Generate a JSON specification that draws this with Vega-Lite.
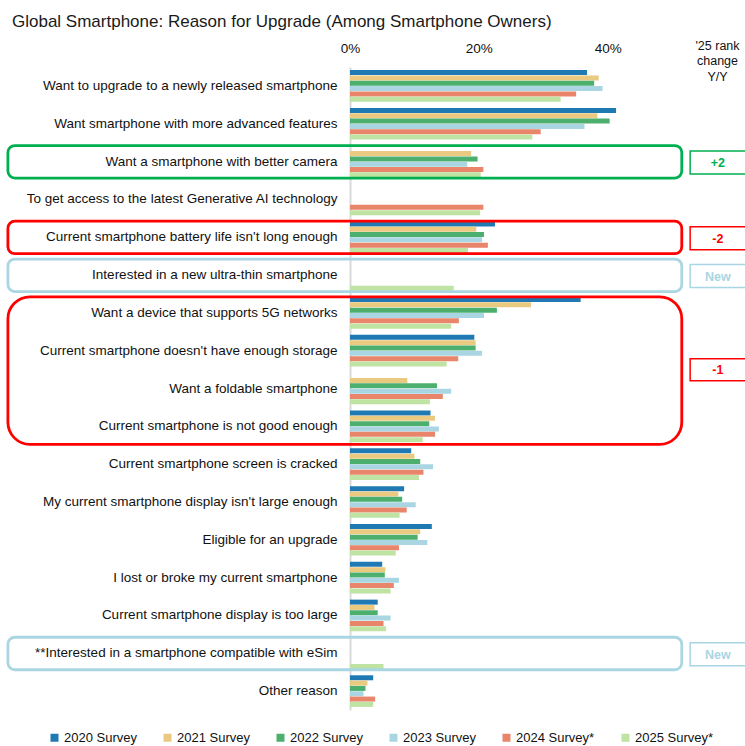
{
  "$schema": "https://vega.github.io/schema/vega-lite/v6.json",
  "width": 335,
  "height": 643,
  "autosize": {"type": "none"},
  "padding": {"left": 350, "top": 67, "right": 60, "bottom": 36},
  "background": "white",
  "config": {"font": "Liberation Sans", "view": {"stroke": null}},
  "title": {"text": "Global Smartphone: Reason for Upgrade (Among Smartphone Owners)", "anchor": "start", "frame": "group", "dx": -338, "fontSize": 17, "fontWeight": "normal", "color": "#1a1a1a", "offset": 8},
  "datasets": {
    "bars": [
      {"r": "Want to upgrade to a newly released smartphone", "s": "2020 Survey", "v": 36.8},
      {"r": "Want to upgrade to a newly released smartphone", "s": "2021 Survey", "v": 38.6},
      {"r": "Want to upgrade to a newly released smartphone", "s": "2022 Survey", "v": 37.9},
      {"r": "Want to upgrade to a newly released smartphone", "s": "2023 Survey", "v": 39.2},
      {"r": "Want to upgrade to a newly released smartphone", "s": "2024 Survey*", "v": 35.1},
      {"r": "Want to upgrade to a newly released smartphone", "s": "2025 Survey*", "v": 32.7},
      {"r": "Want smartphone with more advanced features", "s": "2020 Survey", "v": 41.3},
      {"r": "Want smartphone with more advanced features", "s": "2021 Survey", "v": 38.4},
      {"r": "Want smartphone with more advanced features", "s": "2022 Survey", "v": 40.3},
      {"r": "Want smartphone with more advanced features", "s": "2023 Survey", "v": 36.4},
      {"r": "Want smartphone with more advanced features", "s": "2024 Survey*", "v": 29.6},
      {"r": "Want smartphone with more advanced features", "s": "2025 Survey*", "v": 28.3},
      {"r": "Want a smartphone with better camera", "s": "2021 Survey", "v": 18.8},
      {"r": "Want a smartphone with better camera", "s": "2022 Survey", "v": 19.8},
      {"r": "Want a smartphone with better camera", "s": "2023 Survey", "v": 18.2},
      {"r": "Want a smartphone with better camera", "s": "2024 Survey*", "v": 20.7},
      {"r": "Want a smartphone with better camera", "s": "2025 Survey*", "v": 20.3},
      {"r": "To get access to the latest Generative AI technology", "s": "2024 Survey*", "v": 20.7},
      {"r": "To get access to the latest Generative AI technology", "s": "2025 Survey*", "v": 20.2},
      {"r": "Current smartphone battery life isn't long enough", "s": "2020 Survey", "v": 22.5},
      {"r": "Current smartphone battery life isn't long enough", "s": "2021 Survey", "v": 19.6},
      {"r": "Current smartphone battery life isn't long enough", "s": "2022 Survey", "v": 20.8},
      {"r": "Current smartphone battery life isn't long enough", "s": "2023 Survey", "v": 20.5},
      {"r": "Current smartphone battery life isn't long enough", "s": "2024 Survey*", "v": 21.4},
      {"r": "Current smartphone battery life isn't long enough", "s": "2025 Survey*", "v": 18.3},
      {"r": "Interested in a new ultra-thin smartphone", "s": "2025 Survey*", "v": 16.1},
      {"r": "Want a device that supports 5G networks", "s": "2020 Survey", "v": 35.8},
      {"r": "Want a device that supports 5G networks", "s": "2021 Survey", "v": 28.1},
      {"r": "Want a device that supports 5G networks", "s": "2022 Survey", "v": 22.8},
      {"r": "Want a device that supports 5G networks", "s": "2023 Survey", "v": 20.8},
      {"r": "Want a device that supports 5G networks", "s": "2024 Survey*", "v": 16.9},
      {"r": "Want a device that supports 5G networks", "s": "2025 Survey*", "v": 15.7},
      {"r": "Current smartphone doesn't have enough storage", "s": "2020 Survey", "v": 19.3},
      {"r": "Current smartphone doesn't have enough storage", "s": "2021 Survey", "v": 19.5},
      {"r": "Current smartphone doesn't have enough storage", "s": "2022 Survey", "v": 19.5},
      {"r": "Current smartphone doesn't have enough storage", "s": "2023 Survey", "v": 20.5},
      {"r": "Current smartphone doesn't have enough storage", "s": "2024 Survey*", "v": 16.8},
      {"r": "Current smartphone doesn't have enough storage", "s": "2025 Survey*", "v": 15.0},
      {"r": "Want a foldable smartphone", "s": "2021 Survey", "v": 8.9},
      {"r": "Want a foldable smartphone", "s": "2022 Survey", "v": 13.5},
      {"r": "Want a foldable smartphone", "s": "2023 Survey", "v": 15.7},
      {"r": "Want a foldable smartphone", "s": "2024 Survey*", "v": 14.4},
      {"r": "Want a foldable smartphone", "s": "2025 Survey*", "v": 12.4},
      {"r": "Current smartphone is not good enough", "s": "2020 Survey", "v": 12.5},
      {"r": "Current smartphone is not good enough", "s": "2021 Survey", "v": 13.2},
      {"r": "Current smartphone is not good enough", "s": "2022 Survey", "v": 12.3},
      {"r": "Current smartphone is not good enough", "s": "2023 Survey", "v": 13.8},
      {"r": "Current smartphone is not good enough", "s": "2024 Survey*", "v": 13.2},
      {"r": "Current smartphone is not good enough", "s": "2025 Survey*", "v": 11.3},
      {"r": "Current smartphone screen is cracked", "s": "2020 Survey", "v": 9.5},
      {"r": "Current smartphone screen is cracked", "s": "2021 Survey", "v": 10.0},
      {"r": "Current smartphone screen is cracked", "s": "2022 Survey", "v": 10.9},
      {"r": "Current smartphone screen is cracked", "s": "2023 Survey", "v": 12.9},
      {"r": "Current smartphone screen is cracked", "s": "2024 Survey*", "v": 11.4},
      {"r": "Current smartphone screen is cracked", "s": "2025 Survey*", "v": 10.7},
      {"r": "My current smartphone display isn't large enough", "s": "2020 Survey", "v": 8.4},
      {"r": "My current smartphone display isn't large enough", "s": "2021 Survey", "v": 7.5},
      {"r": "My current smartphone display isn't large enough", "s": "2022 Survey", "v": 8.1},
      {"r": "My current smartphone display isn't large enough", "s": "2023 Survey", "v": 10.2},
      {"r": "My current smartphone display isn't large enough", "s": "2024 Survey*", "v": 8.8},
      {"r": "My current smartphone display isn't large enough", "s": "2025 Survey*", "v": 7.7},
      {"r": "Eligible for an upgrade", "s": "2020 Survey", "v": 12.7},
      {"r": "Eligible for an upgrade", "s": "2021 Survey", "v": 10.9},
      {"r": "Eligible for an upgrade", "s": "2022 Survey", "v": 10.5},
      {"r": "Eligible for an upgrade", "s": "2023 Survey", "v": 12.0},
      {"r": "Eligible for an upgrade", "s": "2024 Survey*", "v": 7.6},
      {"r": "Eligible for an upgrade", "s": "2025 Survey*", "v": 7.1},
      {"r": "I lost or broke my current smartphone", "s": "2020 Survey", "v": 5.0},
      {"r": "I lost or broke my current smartphone", "s": "2021 Survey", "v": 5.5},
      {"r": "I lost or broke my current smartphone", "s": "2022 Survey", "v": 5.4},
      {"r": "I lost or broke my current smartphone", "s": "2023 Survey", "v": 7.6},
      {"r": "I lost or broke my current smartphone", "s": "2024 Survey*", "v": 6.8},
      {"r": "I lost or broke my current smartphone", "s": "2025 Survey*", "v": 6.3},
      {"r": "Current smartphone display is too large", "s": "2020 Survey", "v": 4.3},
      {"r": "Current smartphone display is too large", "s": "2021 Survey", "v": 3.8},
      {"r": "Current smartphone display is too large", "s": "2022 Survey", "v": 4.3},
      {"r": "Current smartphone display is too large", "s": "2023 Survey", "v": 6.3},
      {"r": "Current smartphone display is too large", "s": "2024 Survey*", "v": 5.2},
      {"r": "Current smartphone display is too large", "s": "2025 Survey*", "v": 5.6},
      {"r": "**Interested in a smartphone compatible with eSim", "s": "2025 Survey*", "v": 5.2},
      {"r": "Other reason", "s": "2020 Survey", "v": 3.6},
      {"r": "Other reason", "s": "2021 Survey", "v": 2.7},
      {"r": "Other reason", "s": "2022 Survey", "v": 2.4},
      {"r": "Other reason", "s": "2023 Survey", "v": 2.1},
      {"r": "Other reason", "s": "2024 Survey*", "v": 3.9},
      {"r": "Other reason", "s": "2025 Survey*", "v": 3.6}
    ],
    "groups": [
      {"first": "Want a smartphone with better camera", "last": "Want a smartphone with better camera", "change": "+2", "kind": "up", "span": "one"},
      {"first": "Current smartphone battery life isn't long enough", "last": "Current smartphone battery life isn't long enough", "change": "-2", "kind": "down", "span": "one"},
      {"first": "Interested in a new ultra-thin smartphone", "last": "Interested in a new ultra-thin smartphone", "change": "New", "kind": "new", "span": "one"},
      {"first": "Want a device that supports 5G networks", "last": "Current smartphone is not good enough", "change": "-1", "kind": "down", "span": "four"},
      {"first": "**Interested in a smartphone compatible with eSim", "last": "**Interested in a smartphone compatible with eSim", "change": "New", "kind": "new", "span": "one"}
    ]
  },
  "layer": [
    {
      "data": {"name": "bars"},
      "mark": {"type": "bar"},
      "encoding": {
        "y": {"field": "r", "type": "nominal", "sort": null,
          "scale": {"domain": ["Want to upgrade to a newly released smartphone", "Want smartphone with more advanced features", "Want a smartphone with better camera", "To get access to the latest Generative AI technology", "Current smartphone battery life isn't long enough", "Interested in a new ultra-thin smartphone", "Want a device that supports 5G networks", "Current smartphone doesn't have enough storage", "Want a foldable smartphone", "Current smartphone is not good enough", "Current smartphone screen is cracked", "My current smartphone display isn't large enough", "Eligible for an upgrade", "I lost or broke my current smartphone", "Current smartphone display is too large", "**Interested in a smartphone compatible with eSim", "Other reason"], "paddingInner": 0.164, "paddingOuter": 0.082},
          "axis": {"title": null, "ticks": false, "domainColor": "#d9d9d9", "domainWidth": 2, "labelFontSize": 13.5, "labelColor": "#111111", "labelPadding": 13, "labelLimit": 400}},
        "yOffset": {"field": "s", "type": "nominal", "scale": {"domain": ["2020 Survey", "2021 Survey", "2022 Survey", "2023 Survey", "2024 Survey*", "2025 Survey*"], "paddingInner": 0.06}},
        "x": {"field": "v", "type": "quantitative", "scale": {"domain": [0, 52], "nice": false, "zero": false},
          "axis": {"orient": "top", "values": [0, 20, 40], "labelExpr": "datum.value + '%'", "labelFlush": false, "domain": false, "ticks": false, "grid": false, "labelFontSize": 13.5, "labelColor": "#111111", "labelPadding": 12,
            "title": ["'25 rank", "change", "Y/Y"], "titleFontSize": 12.5, "titleFontWeight": "normal", "titleColor": "#111111", "titleLineHeight": 15.5, "titleX": 367, "titleY": -28, "titleBaseline": "top", "titleAlign": "center", "titleAnchor": null}},
        "color": {"field": "s", "type": "nominal",
          "scale": {"domain": ["2020 Survey", "2021 Survey", "2022 Survey", "2023 Survey", "2024 Survey*", "2025 Survey*"], "range": ["#1f7ab3", "#e9ca80", "#4caf6e", "#a9d6e2", "#e8856a", "#bfe3a3"]},
          "legend": {"orient": "none", "legendX": -302, "legendY": 664, "direction": "horizontal", "title": null, "symbolType": "square", "symbolSize": 64, "symbolStrokeWidth": 0, "labelOffset": 3, "labelFontSize": 13, "labelColor": "#111111", "columnPadding": 24}}
      }
    },
    {
      "data": {"name": "groups"},
      "transform": [{"filter": "datum.span == 'one'"}],
      "mark": {"type": "rect", "fill": "transparent", "strokeWidth": 2.8, "cornerRadius": 7, "yOffset": -16, "y2Offset": 16.5},
      "encoding": {
        "y": {"field": "first", "type": "nominal"},
        "y2": {"field": "last"},
        "x": {"datum": -53.1, "type": "quantitative"},
        "x2": {"datum": 51.5},
        "stroke": {"field": "kind", "type": "nominal", "scale": {"domain": ["up", "down", "new"], "range": ["#00b050", "#ff0000", "#a9d6e2"]}, "legend": null}
      }
    },
    {
      "data": {"name": "groups"},
      "transform": [{"filter": "datum.span == 'four'"}],
      "mark": {"type": "rect", "fill": "transparent", "strokeWidth": 2.8, "cornerRadius": 22, "yOffset": -16, "y2Offset": 18},
      "encoding": {
        "y": {"field": "first", "type": "nominal"},
        "y2": {"field": "last"},
        "x": {"datum": -53.1, "type": "quantitative"},
        "x2": {"datum": 51.5},
        "stroke": {"field": "kind", "type": "nominal", "legend": null}
      }
    },
    {
      "data": {"name": "groups"},
      "transform": [{"filter": "datum.span == 'one'"}],
      "mark": {"type": "rect", "fill": "transparent", "strokeWidth": 1.5, "yOffset": -10.5, "y2Offset": 12.5},
      "encoding": {
        "y": {"field": "first", "type": "nominal"},
        "y2": {"field": "last"},
        "x": {"datum": 52.8, "type": "quantitative"},
        "x2": {"datum": 62.5},
        "stroke": {"field": "kind", "type": "nominal", "legend": null}
      }
    },
    {
      "data": {"name": "groups"},
      "transform": [{"filter": "datum.span == 'four'"}],
      "mark": {"type": "rect", "fill": "transparent", "strokeWidth": 1.5, "yOffset": 46, "y2Offset": -45.5},
      "encoding": {
        "y": {"field": "first", "type": "nominal"},
        "y2": {"field": "last"},
        "x": {"datum": 52.8, "type": "quantitative"},
        "x2": {"datum": 62.5},
        "stroke": {"field": "kind", "type": "nominal", "legend": null}
      }
    },
    {
      "data": {"name": "groups"},
      "transform": [{"filter": "datum.span == 'one'"}],
      "mark": {"type": "text", "fontSize": 12.5, "fontWeight": "bold", "align": "center", "baseline": "middle", "yOffset": 1.5},
      "encoding": {
        "y": {"field": "first", "type": "nominal"},
        "x": {"datum": 57.1, "type": "quantitative"},
        "text": {"field": "change"},
        "fill": {"field": "kind", "type": "nominal", "scale": {"domain": ["up", "down", "new"], "range": ["#00b050", "#ff0000", "#a9d6e2"]}, "legend": null}
      }
    },
    {
      "data": {"name": "groups"},
      "transform": [{"filter": "datum.span == 'four'"}],
      "mark": {"type": "text", "fontSize": 12.5, "fontWeight": "bold", "align": "center", "baseline": "middle", "yOffset": 57.5},
      "encoding": {
        "y": {"field": "first", "type": "nominal"},
        "x": {"datum": 57.1, "type": "quantitative"},
        "text": {"field": "change"},
        "fill": {"field": "kind", "type": "nominal", "legend": null}
      }
    }
  ]
}
